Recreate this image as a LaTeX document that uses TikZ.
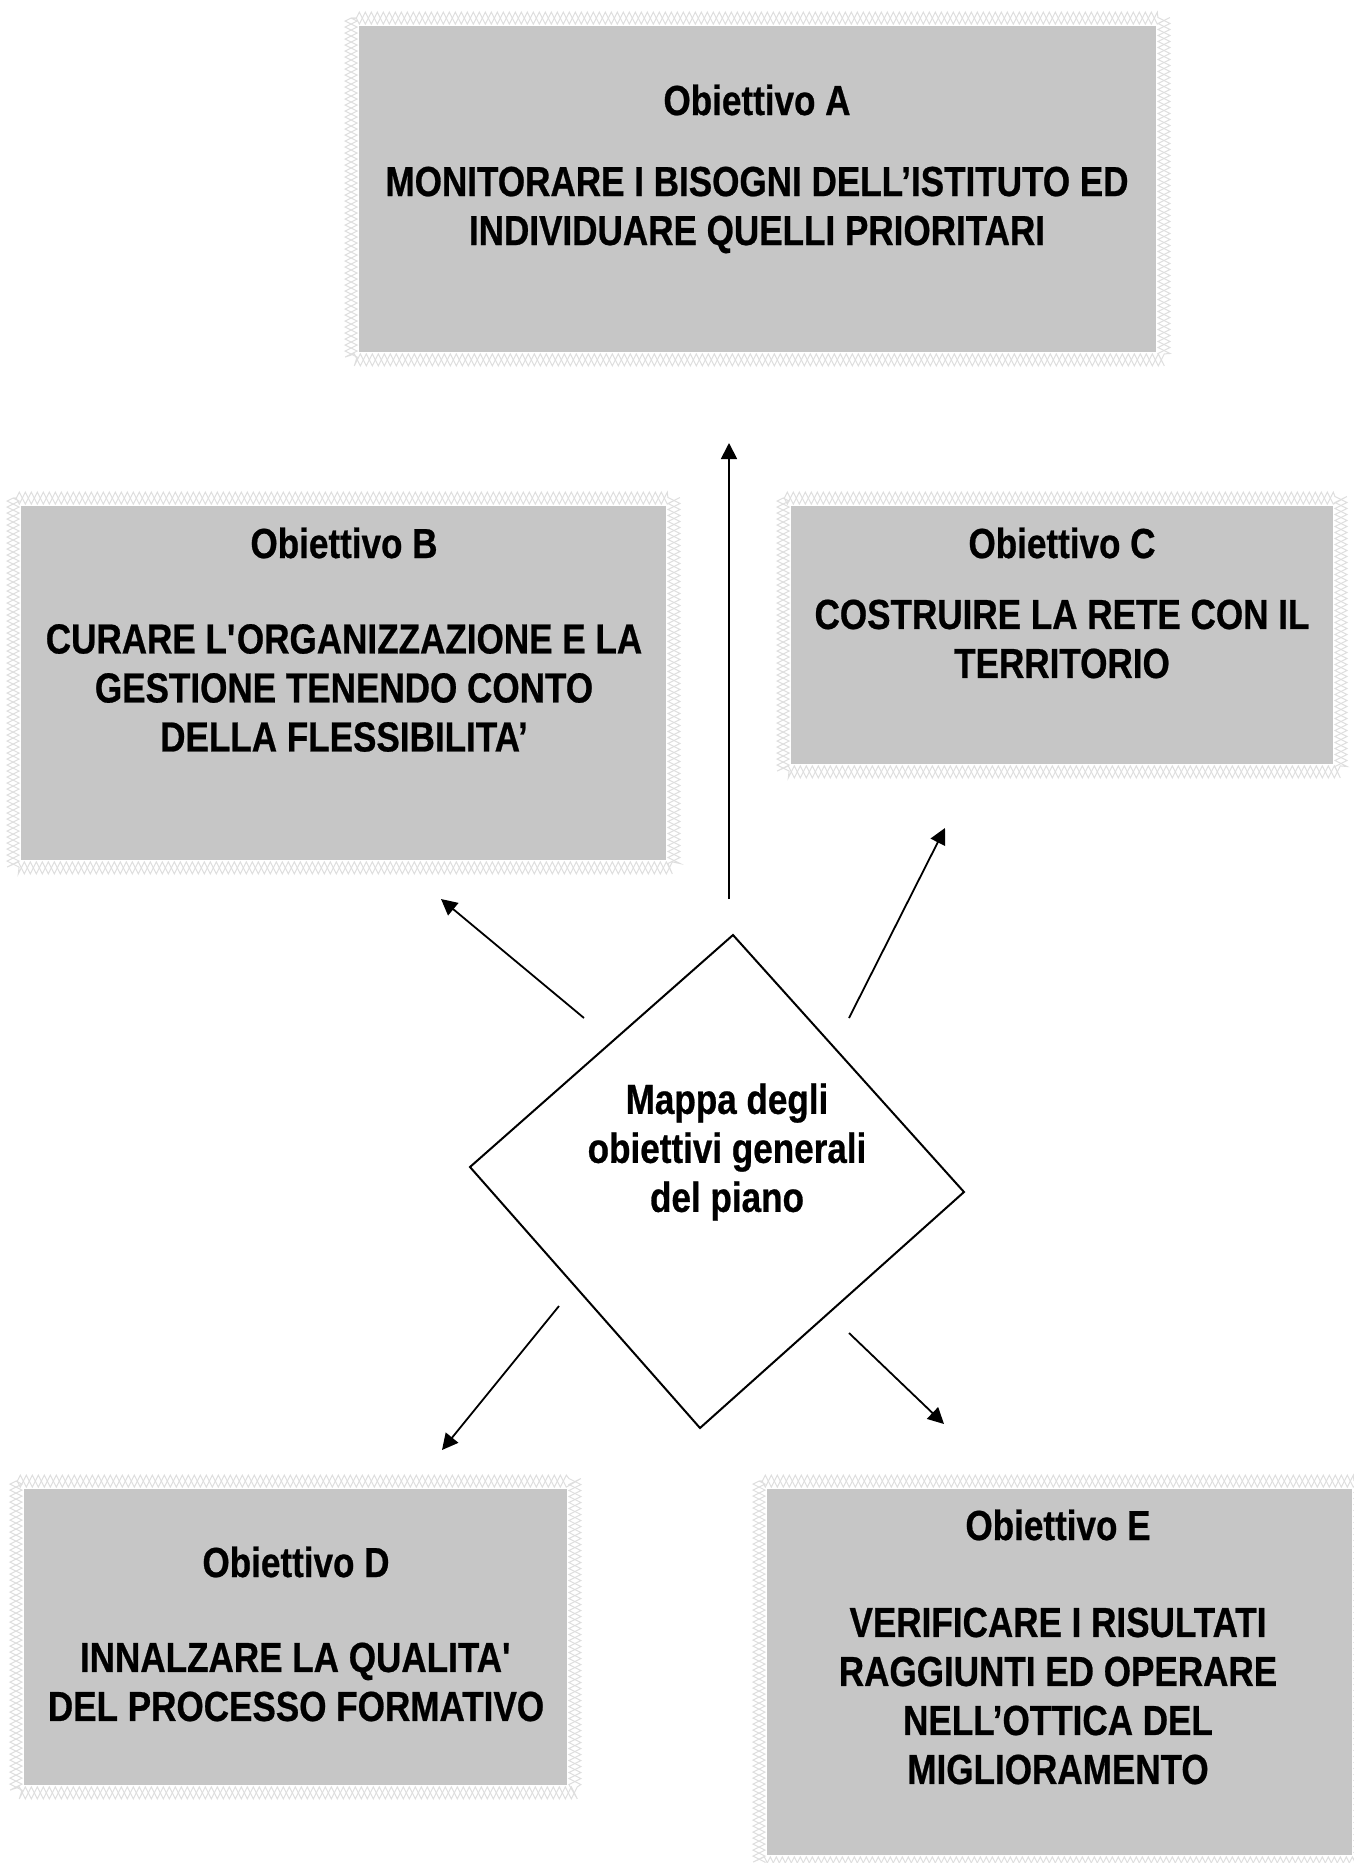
\documentclass[tikz,border=0pt]{standalone}
\usepackage{fontspec}
\newfontfamily\narrowfont{Liberation Sans}[FakeStretch=0.835, FakeBold=0.6]
\usetikzlibrary{fit, arrows.meta, decorations.pathmorphing}
\definecolor{boxgray}{RGB}{198,198,198}
\definecolor{zaggray}{RGB}{222,222,222}

\begin{document}
\begin{tikzpicture}[x=0.5pt, y=-0.5pt, >={Triangle[length=8pt, width=8pt]},
    goal/.style={fill=boxgray, inner sep=0pt},
    zig/.style={draw=zaggray, line width=0.5pt, decorate,
        decoration={zigzag, amplitude=3pt, segment length=6pt}},
    txt/.style={font=\narrowfont\bfseries\fontsize{21}{24.5}\selectfont, align=center},
    link/.style={->, line width=0.9pt}]
    \useasboundingbox (0,0) rectangle (1354,1863);

    % Boxes
    \node[goal, fit={(359,26) (1156,352)}] (boxA) {};
    \node[goal, fit={(21,506) (666,860)}] (boxB) {};
    \node[goal, fit={(791,506) (1333,764)}] (boxC) {};
    \node[goal, fit={(24,1489) (567,1785)}] (boxD) {};
    \node[goal, fit={(767,1489) (1352,1855)}] (boxE) {};
    \foreach \b in {A,B,C,D,E} {
        \draw[zig] ([xshift=-3.75pt, yshift=3.75pt]box\b.north west) rectangle ([xshift=3.75pt, yshift=-3.75pt]box\b.south east);
        \draw[zig, decoration={mirror}] ([xshift=-3.75pt, yshift=3.75pt]box\b.north west) rectangle ([xshift=3.75pt, yshift=-3.75pt]box\b.south east);
    }

    % Texts
    \node[txt] (titA) at (757,100) {Obiettivo A};
    \node[txt] (txtA) at (757,210) {MONITORARE I BISOGNI DELL’ISTITUTO ED\\INDIVIDUARE QUELLI PRIORITARI};
    \node[txt] (titB) at (344,543) {Obiettivo B};
    \node[txt] (txtB) at (344,688) {CURARE L\textquotesingle ORGANIZZAZIONE E LA\\GESTIONE TENENDO CONTO\\DELLA FLESSIBILITA’};
    \node[txt] (titC) at (1062,543) {Obiettivo C};
    \node[txt] (txtC) at (1062,639) {COSTRUIRE LA RETE CON IL\\TERRITORIO};
    \node[txt] (titD) at (296,1562) {Obiettivo D};
    \node[txt] (txtD) at (296,1682) {INNALZARE LA QUALITA\textquotesingle\\DEL PROCESSO FORMATIVO};
    \node[txt] (titE) at (1058,1525) {Obiettivo E};
    \node[txt] (txtE) at (1058,1696) {VERIFICARE I RISULTATI\\RAGGIUNTI ED OPERARE\\NELL’OTTICA DEL\\MIGLIORAMENTO};

    % Map
    \coordinate (mT) at (733,935);
    \coordinate (mR) at (964,1192);
    \coordinate (mB) at (700,1428);
    \coordinate (mL) at (470,1167);
    \draw[line width=1pt, line join=miter] (mT) -- (mR) -- (mB) -- (mL) -- cycle;
    \node[txt] (map) at (727,1152) {Mappa degli\\obiettivi generali\\del piano};

    % Arrows
    \coordinate (fromA) at (729,899);  \coordinate (toA) at (729,443);
    \coordinate (fromB) at (584,1018); \coordinate (toB) at (441,899);
    \coordinate (fromC) at (849,1018); \coordinate (toC) at (945,828);
    \coordinate (fromD) at (559,1306); \coordinate (toD) at (442,1450);
    \coordinate (fromE) at (849,1333); \coordinate (toE) at (944,1424);
    \foreach \b in {A,B,C,D,E}
        \draw[link] (from\b) -- (to\b);
\end{tikzpicture}
\end{document}
